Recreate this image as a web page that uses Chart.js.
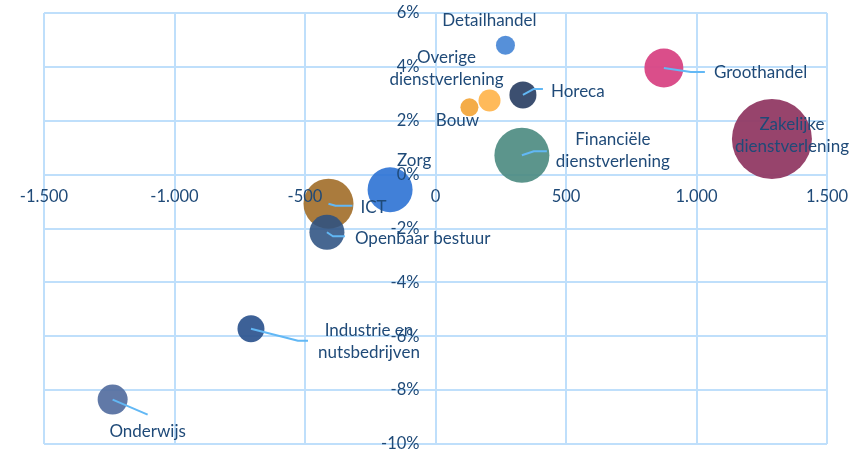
<!DOCTYPE html>
<html>
<head>
<meta charset="utf-8">
<script src="https://cdn.jsdelivr.net/npm/chart.js@4"></script>
<style>
  html, body { margin: 0; padding: 0; background: #fff; }
  #wrap { width: 858px; height: 449px; }
</style>
</head>
<body>
<div id="wrap"><canvas id="bubbleChart"></canvas></div>
<script>
// sectoren: groei werkgelegenheid (x) en procentuele groei (y)
const categories = [
    'Detailhandel', 'Overige dienstverlening', 'Bouw', 'Horeca',
    'Financiële dienstverlening', 'Groothandel', 'Zakelijke dienstverlening',
    'Zorg', 'ICT', 'Openbaar bestuur', 'Industrie en nutsbedrijven', 'Onderwijs',
];
const growthAbs = [268, 207, 130, 335, 331, 875, 1289, -174, -410, -416, -707, -1237];
const growthPct = [4.8, 2.75, 2.5, 2.96, 0.72, 3.96, 1.32, -0.56, -1.08, -2.14, -5.72, -8.35];
const bubbleSize = [9.5, 11, 9, 13.5, 27.5, 19.5, 40, 22.5, 25, 17.5, 13.5, 15];
const xTickRange = [-1500, 1500, 500];
const yTickRange = [-10, 6, 2];

const colors = [
    'rgba(72,135,214,0.92)', 'rgba(255,180,76,0.92)', 'rgba(243,165,56,0.92)', 'rgba(50,70,104,0.95)',
    'rgba(74,137,128,0.9)', 'rgba(216,68,132,0.95)', 'rgba(145,58,100,0.95)', 'rgba(44,114,212,0.9)',
    'rgba(163,112,44,0.92)', 'rgba(46,82,130,0.88)', 'rgba(44,84,142,0.92)', 'rgba(84,110,160,0.92)',
];

// label placement relative to bubble centre (px), with leader line points
const labelLayout = [
    { dx: -16, dy: -25, align: 'center' },
    { dx: -43, dy: -43, align: 'center', wrap: true },
    { dx: -12, dy: 13, align: 'center' },
    { dx: 28, dy: -3, align: 'left', lead: [[0, 0], [11, -6], [20, -6]] },
    { dx: 91, dy: -15.5, align: 'center', wrap: true, lead: [[0, 0], [12, -4], [25, -4]] },
    { dx: 50, dy: 4.5, align: 'left', lead: [[0, 0], [27, 4], [41, 4]] },
    { dx: 20, dy: -15, align: 'center', wrap: true },
    { dx: 24, dy: -29, align: 'center' },
    { dx: 32, dy: 4, align: 'left', lead: [[0, 0], [7, 2], [24, 2]] },
    { dx: 28, dy: 6, align: 'left', lead: [[0, 0], [6, 4], [18, 4]] },
    { dx: 118, dy: 2, align: 'center', wrap: true, lead: [[0, 0], [47, 12], [57, 12]] },
    { dx: 35, dy: 32, align: 'center', lead: [[0, 0], [35, 15]] },
];

const textColor = '#1f4a78';
const gridColor = '#bfdffb';
const fontFamily = 'Lato, "Open Sans", sans-serif';

const formatThousands = v => {
    const s = Math.abs(v).toString().replace(/\B(?=(\d{3})+(?!\d))/g, '.');
    return (v < 0 ? '-' : '') + s;
};

// tick labels sit on the zero lines and are painted over the bubbles
const zeroAxisLabels = {
    id: 'zeroAxisLabels',
    afterDatasetsDraw(chart) {
        const { ctx, scales: { x, y } } = chart;
        const x0 = x.getPixelForValue(0);
        const y0 = y.getPixelForValue(0);
        ctx.save();
        ctx.font = '16.5px ' + fontFamily;
        ctx.fillStyle = textColor;
        ctx.textBaseline = 'middle';
        ctx.textAlign = 'center';
        x.ticks.forEach(t => {
            ctx.fillText(formatThousands(t.value), x.getPixelForValue(t.value), y0 + 22);
        });
        ctx.textAlign = 'right';
        y.ticks.forEach(t => {
            ctx.fillText(t.value + '%', x0 - 16, y.getPixelForValue(t.value));
        });
        ctx.restore();
    },
};

const bubbleLabels = {
    id: 'bubbleLabels',
    afterDatasetsDraw(chart) {
        const ctx = chart.ctx;
        const meta = chart.getDatasetMeta(0);
        ctx.save();
        meta.data.forEach((pt, i) => {
            const lay = labelLayout[i];
            if (lay.lead) {
                ctx.beginPath();
                ctx.strokeStyle = '#62b8f5';
                ctx.lineWidth = 2;
                ctx.lineJoin = 'round';
                lay.lead.forEach(([lx, ly], k) => {
                    if (k === 0) ctx.moveTo(pt.x + lx, pt.y + ly);
                    else ctx.lineTo(pt.x + lx, pt.y + ly);
                });
                ctx.stroke();
            }
        });
        ctx.font = '17px ' + fontFamily;
        ctx.fillStyle = textColor;
        ctx.textBaseline = 'middle';
        meta.data.forEach((pt, i) => {
            const lay = labelLayout[i];
            const name = categories[i];
            let lines = [name];
            if (lay.wrap) {
                const cut = name.lastIndexOf(' ');
                lines = [name.slice(0, cut), name.slice(cut + 1)];
            }
            ctx.textAlign = lay.align;
            lines.forEach((line, k) => {
                ctx.fillText(line, pt.x + lay.dx, pt.y + lay.dy + k * 22);
            });
        });
        ctx.restore();
    },
};

new Chart(document.getElementById('bubbleChart'), {
    type: 'bubble',
    data: {
        datasets: [{
            data: categories.map((c, i) => ({ x: growthAbs[i], y: growthPct[i], r: bubbleSize[i] })),
            backgroundColor: colors,
            borderWidth: 0,
            hoverBorderWidth: 0,
            clip: false,
        }],
    },
    options: {
        responsive: true,
        maintainAspectRatio: false,
        animation: false,
        layout: { autoPadding: false, padding: { left: 44, top: 13, right: 31, bottom: 5 } },
        plugins: { legend: { display: false }, tooltip: { enabled: false } },
        scales: {
            x: {
                type: 'linear',
                min: xTickRange[0], max: xTickRange[1],
                grid: { color: gridColor, lineWidth: 2, drawTicks: false },
                border: { display: false },
                ticks: { display: false, stepSize: xTickRange[2] },
            },
            y: {
                type: 'linear',
                min: yTickRange[0], max: yTickRange[1],
                grid: { color: gridColor, lineWidth: 2, drawTicks: false },
                border: { display: false },
                ticks: { display: false, stepSize: yTickRange[2] },
            },
        },
    },
    plugins: [zeroAxisLabels, bubbleLabels],
});
</script>
</body>
</html>
